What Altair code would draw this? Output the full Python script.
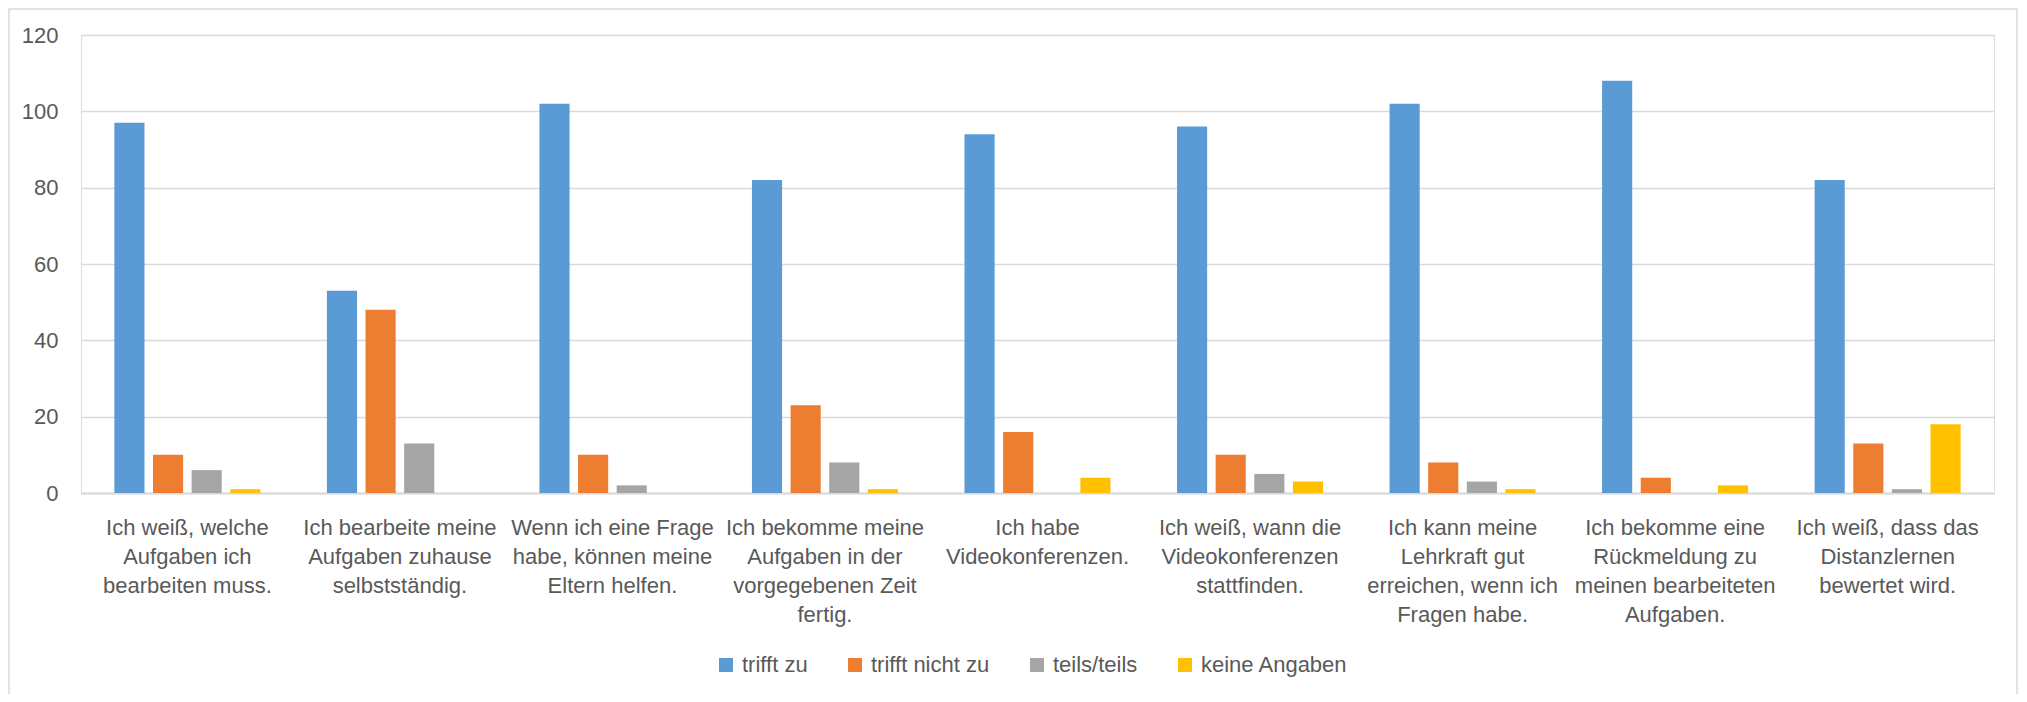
import altair as alt
import pandas as pd

categories = [
    "Ich weiß, welche\nAufgaben ich\nbearbeiten muss.",
    "Ich bearbeite meine\nAufgaben zuhause\nselbstständig.",
    "Wenn ich eine Frage\nhabe, können meine\nEltern helfen.",
    "Ich bekomme meine\nAufgaben in der\nvorgegebenen Zeit\nfertig.",
    "Ich habe\nVideokonferenzen.",
    "Ich weiß, wann die\nVideokonferenzen\nstattfinden.",
    "Ich kann meine\nLehrkraft gut\nerreichen, wenn ich\nFragen habe.",
    "Ich bekomme eine\nRückmeldung zu\nmeinen bearbeiteten\nAufgaben.",
    "Ich weiß, dass das\nDistanzlernen\nbewertet wird.",
]
series = ["trifft zu", "trifft nicht zu", "teils/teils", "keine Angaben"]
colors = ["#5B9BD5", "#ED7D31", "#A5A5A5", "#FFC000"]

trifft_zu = [97, 53, 102, 82, 94, 96, 102, 108, 82]
trifft_nicht_zu = [10, 48, 10, 23, 16, 10, 8, 4, 13]
teils_teils = [6, 13, 2, 8, 0, 5, 3, 0, 1]
keine_angaben = [1, 0, 0, 1, 4, 3, 1, 2, 18]
y_ticks = [0, 20, 40, 60, 80, 100, 120]

rows = []
for s, vals in zip(series, [trifft_zu, trifft_nicht_zu, teils_teils, keine_angaben]):
    for c, v in zip(categories, vals):
        rows.append({"kategorie": c, "serie": s, "wert": v})
df = pd.DataFrame(rows)

FONT = "Liberation Sans"
TXT = "#595959"
GRID = "#D9D9D9"

bars = alt.Chart(df).mark_bar().encode(
    x=alt.X(
        "kategorie:N",
        sort=categories,
        scale=alt.Scale(paddingInner=0.313, paddingOuter=0.157),
        axis=alt.Axis(
            title=None,
            labelAngle=0,
            labelExpr="split(datum.value, '\\n')",
            labelFontSize=22,
            labelColor=TXT,
            labelFont=FONT,
            labelLineHeight=29,
            labelBaseline="top",
            labelPadding=24,
            labelLimit=0,
            ticks=False,
            domain=True,
            domainColor=GRID,
            domainWidth=2,
            grid=False,
        ),
    ),
    xOffset=alt.XOffset(
        "serie:N", sort=series, scale=alt.Scale(paddingInner=0.22, paddingOuter=0)
    ),
    y=alt.Y(
        "wert:Q",
        scale=alt.Scale(domain=[0, 120], nice=False),
        axis=alt.Axis(
            title=None,
            values=y_ticks,
            labelFontSize=22,
            labelColor=TXT,
            labelFont=FONT,
            labelPadding=23,
            domain=False,
            ticks=False,
            grid=True,
            gridColor=GRID,
            gridWidth=1.5,
        ),
    ),
    color=alt.Color(
        "serie:N",
        sort=series,
        scale=alt.Scale(domain=series, range=colors),
        legend=alt.Legend(
            title=None,
            orient="none",
            legendX=634,
            legendY=619,
            direction="horizontal",
            columns=4,
            symbolType="square",
            symbolSize=196,
            symbolStrokeWidth=0,
            labelFontSize=22,
            labelColor=TXT,
            labelFont=FONT,
            labelOffset=5,
            columnPadding=36,
            padding=0,
        ),
    ),
)

frame_df = pd.DataFrame({"f": [1]})
frame = alt.Chart(frame_df).mark_rect(
    fill=None, fillOpacity=0, stroke=GRID, strokeWidth=1.5, clip=False
).encode(
    x=alt.value(-72), x2=alt.value(1936), y=alt.value(-26), y2=alt.value(665)
)

chart = alt.layer(frame, bars).properties(
    width=1913,
    height=458,
    padding={"left": 73, "top": 27, "right": 25, "bottom": 201},
    autosize=alt.AutoSizeParams(type="none"),
).configure_view(stroke=None).configure(font=FONT)

chart.save("out.html", embed_options={"renderer": "svg", "actions": False})
